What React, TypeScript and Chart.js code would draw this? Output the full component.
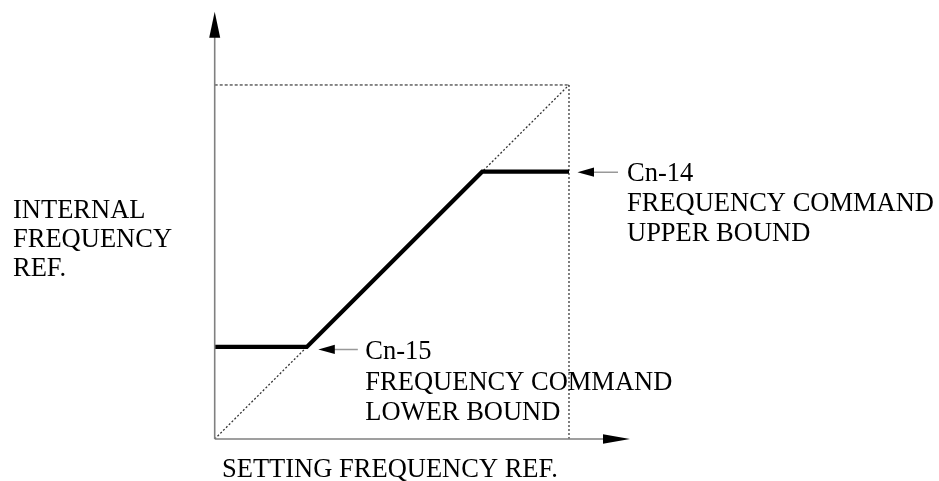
import React, { useEffect, useRef } from "react";
import { Chart, registerables } from "chart.js";

Chart.register(...registerables);

// ---- data ----
const outputX = [0, 26, 75.5, 100];
const outputY = [26, 26, 75.5, 75.5];
const referenceX = [0, 100];
const referenceY = [0, 100];
const boxTopX = [0, 100];
const boxTopY = [100, 100];
const boxRightX = [100, 100];
const boxRightY = [0, 100];
const X_MAX = 117.22;
const Y_MAX = 120.7;

const xAxisLabel = "SETTING FREQUENCY REF.";
const yAxisLabel = ["INTERNAL", "FREQUENCY", "REF."];
const upperLabel = ["Cn-14", "FREQUENCY COMMAND", "UPPER BOUND"];
const lowerLabel = ["Cn-15", "FREQUENCY COMMAND", "LOWER BOUND"];

const zip = (xs: number[], ys: number[]) => xs.map((x, i) => ({ x, y: ys[i] }));

const FONT = "26.5px 'Liberation Serif', 'Times New Roman', serif";

function arrowHead(ctx: CanvasRenderingContext2D, tipX: number, tipY: number, dir: "up" | "right" | "left", len: number, half: number) {
  ctx.beginPath();
  if (dir === "up") {
    ctx.moveTo(tipX, tipY);
    ctx.lineTo(tipX - half, tipY + len);
    ctx.lineTo(tipX + half, tipY + len);
  } else if (dir === "right") {
    ctx.moveTo(tipX, tipY);
    ctx.lineTo(tipX - len, tipY - half);
    ctx.lineTo(tipX - len, tipY + half);
  } else {
    ctx.moveTo(tipX, tipY);
    ctx.lineTo(tipX + len, tipY - half);
    ctx.lineTo(tipX + len, tipY + half);
  }
  ctx.closePath();
  ctx.fillStyle = "#000";
  ctx.fill();
}

const diagramPlugin = {
  id: "diagram",
  afterDatasetsDraw(chart: any) {
    const ctx: CanvasRenderingContext2D = chart.ctx;
    const xs = chart.scales.x;
    const ys = chart.scales.y;
    const ox = xs.getPixelForValue(0);
    const oy = ys.getPixelForValue(0);
    const xTip = xs.getPixelForValue(X_MAX);
    const yTip = ys.getPixelForValue(Y_MAX);
    ctx.save();
    // axes
    ctx.strokeStyle = "#808080";
    ctx.lineWidth = 1.6;
    ctx.beginPath();
    ctx.moveTo(ox, oy);
    ctx.lineTo(ox, yTip + 20);
    ctx.moveTo(ox, oy);
    ctx.lineTo(xTip - 20, oy);
    ctx.stroke();
    arrowHead(ctx, ox, yTip, "up", 26, 5.5);
    arrowHead(ctx, xTip, oy, "right", 27, 4.8);

    // annotation arrows
    const ux = xs.getPixelForValue(100);
    const uy = ys.getPixelForValue(outputY[3]);
    const lx = xs.getPixelForValue(outputX[1]);
    const ly = ys.getPixelForValue(outputY[1]);
    ctx.strokeStyle = "#999";
    ctx.lineWidth = 1.5;
    ctx.beginPath();
    ctx.moveTo(ux + 22, uy + 0.5);
    ctx.lineTo(ux + 49, uy + 0.5);
    ctx.moveTo(lx + 24, ly + 2.5);
    ctx.lineTo(lx + 51, ly + 2.5);
    ctx.stroke();
    arrowHead(ctx, ux + 8.5, uy + 0.5, "left", 16.5, 4.6);
    arrowHead(ctx, lx + 11.5, ly + 2.5, "left", 16.5, 4.6);

    // texts
    ctx.fillStyle = "#000";
    ctx.font = FONT;
    ctx.textAlign = "left";
    ctx.textBaseline = "alphabetic";
    yAxisLabel.forEach((t, i) => ctx.fillText(t, 13, 218 + i * 29));
    ctx.fillText(xAxisLabel, 222, 477);
    upperLabel.forEach((t, i) => ctx.fillText(t, ux + 58, uy + 9.5 + i * 30));
    lowerLabel.forEach((t, i) => ctx.fillText(t, lx + 58.5, ly + 12.5 + i * 30.3));
    ctx.restore();
  },
};

export default function App() {
  const ref = useRef<HTMLCanvasElement | null>(null);
  useEffect(() => {
    if (!ref.current) return;
    const chart = new Chart(ref.current, {
      type: "line",
      data: {
        datasets: [
          {
            data: zip(outputX, outputY),
            borderColor: "#000",
            borderWidth: 4.2,
            pointRadius: 0,
            fill: false,
            tension: 0,
            borderJoinStyle: "miter",
          },
          {
            data: zip(referenceX, referenceY),
            borderColor: "#333",
            borderWidth: 1.3,
            borderDash: [2, 2],
            pointRadius: 0,
            fill: false,
          },
          {
            data: zip(boxTopX, boxTopY),
            borderColor: "#111",
            borderWidth: 1,
            borderDash: [3, 2],
            pointRadius: 0,
            fill: false,
          },
          {
            data: zip(boxRightX, boxRightY),
            borderColor: "#555",
            borderWidth: 1.5,
            borderDash: [2, 2],
            pointRadius: 0,
            fill: false,
          },
        ],
      },
      options: {
        animation: false,
        responsive: false,
        devicePixelRatio: 1,
        layout: { padding: { left: 214.7, right: 939 - 630, top: 11.7, bottom: 481 - 439 } },
        plugins: { legend: { display: false }, tooltip: { enabled: false }, title: { display: false } },
        scales: {
          x: { type: "linear", min: 0, max: X_MAX, display: false },
          y: { type: "linear", min: 0, max: Y_MAX, display: false },
        },
        events: [],
      },
      plugins: [diagramPlugin],
    } as any);
    return () => chart.destroy();
  }, []);
  return (
    <div style={{ position: "absolute", left: 0, top: 0, width: 939, height: 481, background: "#fff" }}>
      <canvas ref={ref} width={939} height={481} style={{ width: 939, height: 481, display: "block" }} />
    </div>
  );
}
